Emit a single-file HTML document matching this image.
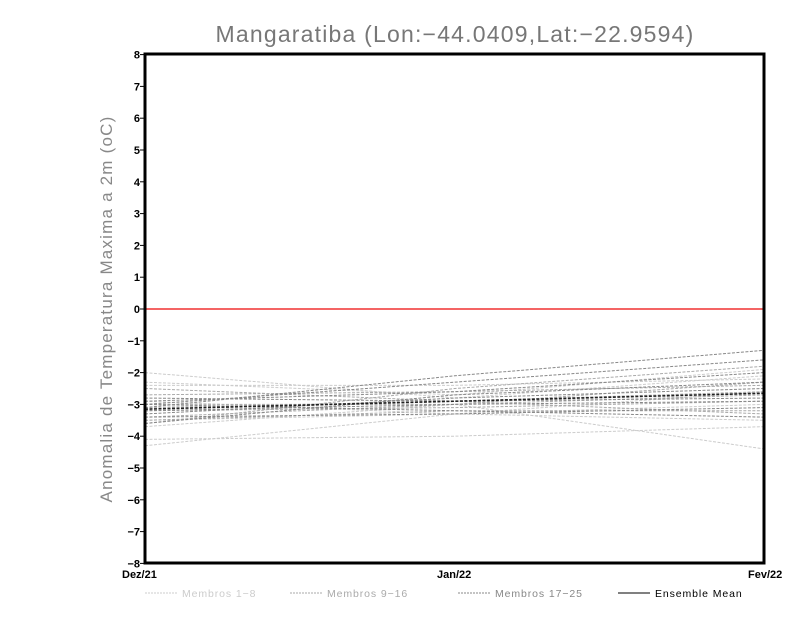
<!DOCTYPE html>
<html><head><style>body{margin:0;background:#fff}svg{display:block}</style></head><body>
<svg width="800" height="618" xmlns="http://www.w3.org/2000/svg" font-family="Liberation Sans, sans-serif">
<text x="455" y="42" text-anchor="middle" font-size="23" fill="#777" letter-spacing="1.2">Mangaratiba (Lon:−44.0409,Lat:−22.9594)</text>
<text transform="translate(112,309) rotate(-90)" text-anchor="middle" font-size="17" fill="#888" letter-spacing="1.2">Anomalia de Temperatura Maxima a 2m (oC)</text>
<line x1="145" y1="309" x2="764" y2="309" stroke="#f03030" stroke-width="1.5"/>
<g fill="none" stroke-width="1" stroke-dasharray="3,1.5" id="lines"></g>
<g id="ticks" font-size="11" font-weight="bold" text-anchor="end"></g>
<rect x="145" y="54" width="619" height="509" fill="none" stroke="#000" stroke-width="3"/>
<g font-size="11" font-weight="bold">
<text x="122" y="578">Dez/21</text><text x="437" y="578">Jan/22</text><text x="748" y="578">Fev/22</text>
</g>
<g font-size="10.5" letter-spacing="0.9">
<line x1="145" y1="593" x2="177" y2="593" stroke="#ccc" stroke-dasharray="2,1"/><text x="182" y="597" fill="#ccc">Membros 1−8</text>
<line x1="290" y1="593" x2="322" y2="593" stroke="#aaa" stroke-dasharray="2,1"/><text x="327" y="597" fill="#aaa">Membros 9−16</text>
<line x1="458" y1="593" x2="490" y2="593" stroke="#888" stroke-dasharray="2,1"/><text x="495" y="597" fill="#888">Membros 17−25</text>
<line x1="618" y1="593" x2="650" y2="593" stroke="#000"/><text x="655" y="597" fill="#000">Ensemble Mean</text>
</g>
<script>
var ns="http://www.w3.org/2000/svg";function y(v){return 309-31.8*v}
var L=[["#ccc",[[-2.0,-2.8,-2.1],[-4.3,-3.3,-3.5],[-4.1,-4.0,-3.7],[-2.3,-2.7,-1.9],[-3.7,-3.0,-4.4],[-2.4,-2.4,-2.2],[-3.5,-3.3,-3.0],[-2.9,-3.3,-2.6]]],
["#aaa",[[-3.6,-2.5,-1.8],[-3.4,-3.0,-2.3],[-2.5,-2.9,-2.6],[-3.1,-2.9,-3.3],[-3.2,-3.1,-2.9],[-2.7,-2.6,-2.4],[-3.5,-3.2,-3.2],[-3.0,-3.0,-2.7]]],
["#888",[[-3.1,-2.1,-1.3],[-3.0,-2.3,-1.6],[-2.9,-2.6,-2.0],[-3.3,-2.8,-2.5],[-3.0,-3.2,-3.4],[-3.2,-3.0,-2.9],[-3.4,-3.3,-3.1],[-3.6,-2.7,-2.3],[-2.8,-2.9,-2.8]]]];
var g=document.getElementById("lines");
L.forEach(function(s){s[1].forEach(function(d){var p=document.createElementNS(ns,"polyline");p.setAttribute("points","145,"+y(d[0])+" 455,"+y(d[1])+" 764,"+y(d[2]));p.setAttribute("stroke",s[0]);g.appendChild(p);});});
var m=document.createElementNS(ns,"polyline");m.setAttribute("points","145,"+y(-3.15)+" 455,"+y(-2.9)+" 764,"+y(-2.65));m.setAttribute("stroke","#222");m.setAttribute("stroke-width","1.6");g.appendChild(m);
var t=document.getElementById("ticks");
for(var v=-8;v<=8;v++){var tx=document.createElementNS(ns,"text");tx.setAttribute("x",140);tx.setAttribute("y",y(v)+4);tx.textContent=(v<0?"−":"")+Math.abs(v);t.appendChild(tx);
var ln=document.createElementNS(ns,"line");ln.setAttribute("x1",140);ln.setAttribute("x2",145);ln.setAttribute("y1",y(v));ln.setAttribute("y2",y(v));ln.setAttribute("stroke","#000");t.appendChild(ln);}
</script>
</svg>
</body></html>
